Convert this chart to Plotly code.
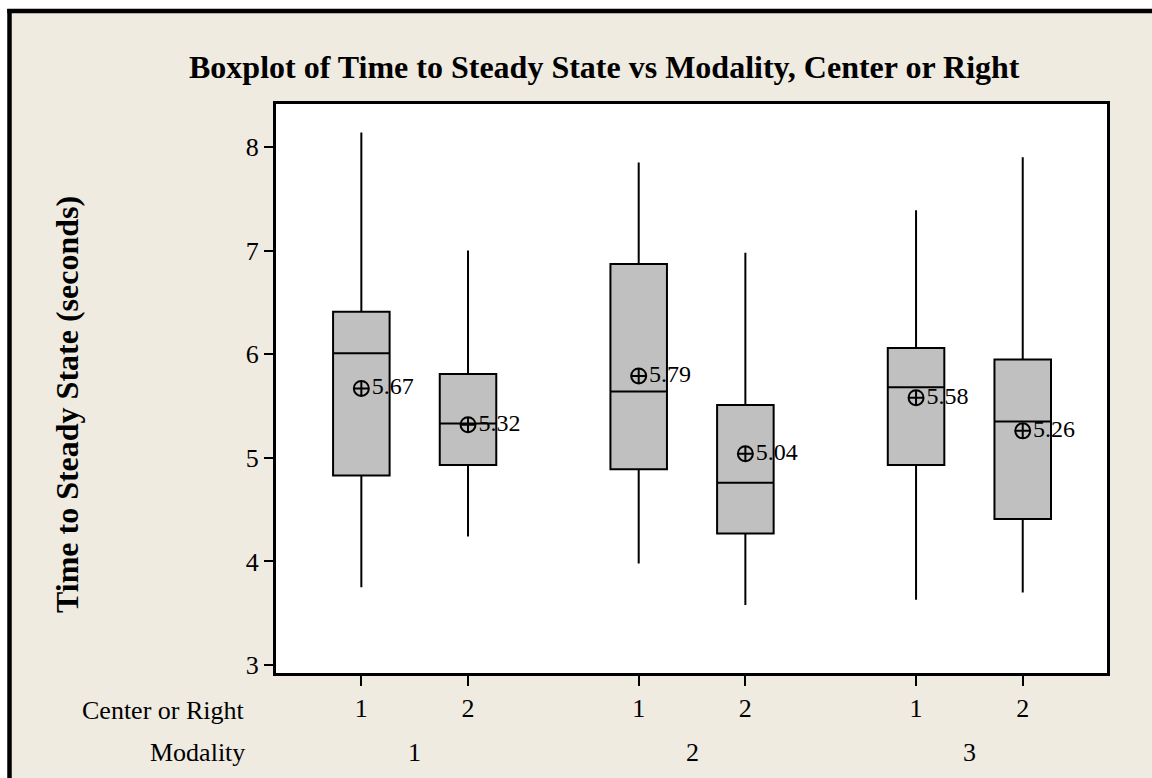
import plotly.graph_objects as go

# ---------------------- DATA ----------------------
modality = ["1", "1", "2", "2", "3", "3"]
center_or_right = ["1", "2", "1", "2", "1", "2"]
lower_whisker = [3.75, 4.24, 3.98, 3.58, 3.63, 3.70]
q1 = [4.83, 4.93, 4.89, 4.27, 4.93, 4.41]
median = [6.01, 5.33, 5.64, 4.76, 5.68, 5.35]
q3 = [6.41, 5.81, 6.87, 5.51, 6.06, 5.95]
upper_whisker = [8.14, 7.00, 7.85, 6.98, 7.39, 7.90]
mean = [5.67, 5.32, 5.79, 5.04, 5.58, 5.26]

# box positions: pairs inside a modality, gap between modalities
pos = []
for i in range(len(modality)):
    g = int(modality[i]) - 1
    s = int(center_or_right[i]) - 1
    pos.append(g * 2.6 + s)

group_names = ["1", "2", "3"]
group_pos = [g * 2.6 + 0.5 for g in range(len(group_names))]

FONT = "Liberation Serif, Times New Roman, serif"
BEIGE = "#EFEBE1"

W, H = 1152, 778
# plot area in pixels
L, R, T, B = 276, 1107, 104, 673


def px_x(p):
    return (p - L) / (R - L)


def px_y(p):
    return (B - p) / (B - T)


fig = go.Figure()

fig.add_trace(
    go.Box(
        x=pos,
        q1=q1,
        median=median,
        q3=q3,
        lowerfence=lower_whisker,
        upperfence=upper_whisker,
        width=0.53,
        whiskerwidth=0,
        fillcolor="#C0C0C0",
        line=dict(color="black", width=2),
        boxpoints=False,
        showlegend=False,
        hoverinfo="skip",
    )
)

fig.add_trace(
    go.Scatter(
        x=pos,
        y=mean,
        mode="markers+text",
        text=[f"{m:.2f}" for m in mean],
        textposition="middle right",
        textfont=dict(family=FONT, size=24, color="black"),
        marker=dict(
            symbol="circle-cross-open",
            size=15,
            color="black",
            line=dict(color="black", width=2),
        ),
        showlegend=False,
        hoverinfo="skip",
    )
)

annotations = [
    dict(
        text="Center or Right", xref="paper", yref="paper",
        x=px_x(247), y=px_y(710), xanchor="right", yanchor="middle",
        showarrow=False, font=dict(family=FONT, size=26, color="black"),
    ),
    dict(
        text="Modality", xref="paper", yref="paper",
        x=px_x(247), y=px_y(752), xanchor="right", yanchor="middle",
        showarrow=False, font=dict(family=FONT, size=26, color="black"),
    ),
    dict(
        text="<b>Boxplot of Time to Steady State vs Modality, Center or Right</b>",
        xref="paper", yref="paper",
        x=px_x(604), y=px_y(67), xanchor="center", yanchor="middle",
        showarrow=False, font=dict(family=FONT, size=32, color="black"),
    ),
    dict(
        text="<b>Time to Steady State (seconds)</b>",
        xref="paper", yref="paper", textangle=-90,
        x=px_x(67), y=px_y(405), xanchor="center", yanchor="middle",
        showarrow=False, font=dict(family=FONT, size=32, color="black"),
    ),
]
for gp, gn in zip(group_pos, group_names):
    annotations.append(
        dict(
            text=gn, xref="x", yref="paper",
            x=gp, y=px_y(752), xanchor="center", yanchor="middle",
            showarrow=False, font=dict(family=FONT, size=26, color="black"),
        )
    )

shapes = [
    # white strips outside the outer frame
    dict(type="rect", xref="paper", yref="paper",
         x0=px_x(-5), x1=px_x(7.5), y0=px_y(800), y1=px_y(-5),
         fillcolor="white", line=dict(width=0), layer="above"),
    dict(type="rect", xref="paper", yref="paper",
         x0=px_x(-5), x1=px_x(1160), y0=px_y(9), y1=px_y(-5),
         fillcolor="white", line=dict(width=0), layer="above"),
    # outer frame: only its left and top edges are in view
    dict(type="line", xref="paper", yref="paper",
         x0=px_x(9.5), x1=px_x(9.5), y0=px_y(900), y1=px_y(9),
         line=dict(color="black", width=4.5), layer="above"),
    dict(type="line", xref="paper", yref="paper",
         x0=px_x(7.3), x1=px_x(1300), y0=px_y(11), y1=px_y(11),
         line=dict(color="black", width=4.5), layer="above"),
]

fig.update_layout(
    width=W,
    height=H,
    margin=dict(l=L, r=W - R, t=T, b=H - B, pad=0),
    paper_bgcolor=BEIGE,
    plot_bgcolor="white",
    font=dict(family=FONT, size=26, color="black"),
    annotations=annotations,
    shapes=shapes,
    showlegend=False,
    dragmode=False,
)

fig.update_xaxes(
    range=[-0.8, 6.99],
    tickvals=pos,
    ticktext=center_or_right,
    ticks="outside",
    ticklen=10,
    tickwidth=2,
    tickcolor="black",
    showline=True,
    linecolor="black",
    linewidth=3,
    mirror=True,
    showgrid=False,
    zeroline=False,
    tickfont=dict(family=FONT, size=26, color="black"),
)

fig.update_yaxes(
    range=[2.923, 8.415],
    tickvals=[3, 4, 5, 6, 7, 8],
    ticks="outside",
    ticklen=9,
    tickwidth=2,
    tickcolor="black",
    showline=True,
    linecolor="black",
    linewidth=3,
    mirror=True,
    showgrid=False,
    zeroline=False,
    tickfont=dict(family=FONT, size=26, color="black"),
)

# drop the default page margin so the figure sits at the window corner
fig.write_html(
    "out.html",
    config={"displayModeBar": False},
    post_script="document.body.style.margin = '0';",
)
